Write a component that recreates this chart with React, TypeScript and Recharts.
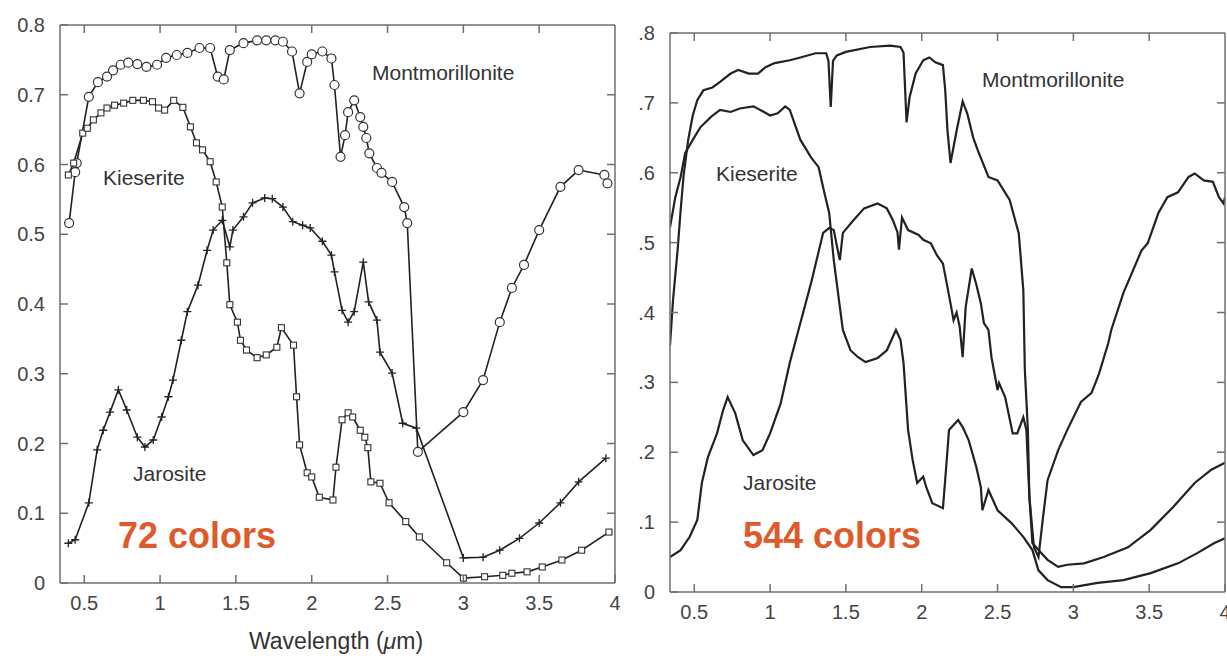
import React from "react";
import { LineChart, Line, XAxis, YAxis } from "recharts";

// wavelength (µm) / reflectance pairs
// left panel: resampled to 72 bands (with markers)
const montmorillonite72: [number, number][] = [
  [0.40, 0.516], [0.44, 0.589], [0.45, 0.602], [0.53, 0.697], [0.59, 0.718], [0.65, 0.726],
  [0.69, 0.735], [0.74, 0.743], [0.79, 0.746], [0.85, 0.744], [0.91, 0.740], [0.98, 0.743],
  [1.04, 0.753], [1.11, 0.757], [1.18, 0.760], [1.26, 0.767], [1.33, 0.767], [1.38, 0.726],
  [1.42, 0.722], [1.46, 0.764], [1.55, 0.774], [1.64, 0.778], [1.70, 0.778], [1.76, 0.778],
  [1.81, 0.776], [1.87, 0.762], [1.92, 0.702], [1.97, 0.747], [2.00, 0.758], [2.07, 0.762],
  [2.13, 0.752], [2.15, 0.714], [2.19, 0.611], [2.22, 0.642], [2.24, 0.675], [2.28, 0.692],
  [2.32, 0.668], [2.34, 0.654], [2.36, 0.638], [2.38, 0.616], [2.43, 0.595], [2.46, 0.588],
  [2.53, 0.575], [2.61, 0.539], [2.63, 0.516], [2.70, 0.188], [3.00, 0.245], [3.13, 0.291],
  [3.24, 0.374], [3.32, 0.423], [3.40, 0.456], [3.50, 0.506], [3.64, 0.568], [3.76, 0.592],
  [3.93, 0.585], [3.95, 0.573],
];

const kieserite72: [number, number][] = [
  [0.395, 0.585], [0.43, 0.602], [0.49, 0.645], [0.52, 0.652], [0.56, 0.664], [0.61, 0.674],
  [0.65, 0.681], [0.70, 0.685], [0.76, 0.688], [0.82, 0.692], [0.89, 0.692], [0.95, 0.690],
  [0.99, 0.681], [1.03, 0.678], [1.09, 0.692], [1.15, 0.682], [1.20, 0.654], [1.24, 0.631],
  [1.28, 0.621], [1.33, 0.604], [1.37, 0.575], [1.41, 0.539], [1.44, 0.459], [1.46, 0.399],
  [1.51, 0.374], [1.53, 0.348], [1.57, 0.334], [1.64, 0.323], [1.70, 0.327], [1.77, 0.338],
  [1.80, 0.366], [1.88, 0.341], [1.90, 0.267], [1.92, 0.198], [1.97, 0.158], [2.00, 0.152],
  [2.05, 0.123], [2.14, 0.119], [2.16, 0.166], [2.20, 0.234], [2.24, 0.244], [2.27, 0.238],
  [2.32, 0.219], [2.35, 0.209], [2.37, 0.194], [2.39, 0.145], [2.45, 0.143], [2.51, 0.115],
  [2.62, 0.088], [2.71, 0.066], [2.89, 0.029], [3.00, 0.007], [3.14, 0.009], [3.26, 0.011],
  [3.32, 0.014], [3.42, 0.016], [3.52, 0.023], [3.65, 0.033], [3.78, 0.047], [3.96, 0.073],
];

const jarosite72: [number, number][] = [
  [0.395, 0.057], [0.44, 0.062], [0.53, 0.115], [0.585, 0.191], [0.625, 0.219], [0.67, 0.245],
  [0.725, 0.277], [0.78, 0.248], [0.85, 0.209], [0.90, 0.195], [0.955, 0.205], [1.01, 0.238],
  [1.055, 0.267], [1.085, 0.291], [1.14, 0.348], [1.18, 0.389], [1.25, 0.427], [1.31, 0.477],
  [1.35, 0.506], [1.41, 0.520], [1.46, 0.482], [1.48, 0.506], [1.55, 0.525], [1.61, 0.545],
  [1.69, 0.552], [1.74, 0.551], [1.81, 0.539], [1.875, 0.518], [1.94, 0.513], [1.99, 0.509],
  [2.07, 0.490], [2.13, 0.470], [2.15, 0.446], [2.20, 0.391], [2.24, 0.374], [2.28, 0.389],
  [2.34, 0.460], [2.375, 0.403], [2.43, 0.377], [2.45, 0.331], [2.53, 0.301], [2.60, 0.229],
  [2.69, 0.222], [3.00, 0.036], [3.13, 0.037], [3.24, 0.047], [3.37, 0.064], [3.50, 0.086],
  [3.64, 0.115], [3.76, 0.145], [3.94, 0.179],
];

// right panel: full 544-band spectra
const montmorillonite544: [number, number][] = [
  [0.34, 0.353], [0.36, 0.418], [0.39, 0.489], [0.41, 0.546], [0.43, 0.597], [0.46, 0.647],
  [0.49, 0.682], [0.52, 0.704], [0.56, 0.718], [0.62, 0.722], [0.67, 0.730], [0.74, 0.742],
  [0.79, 0.747], [0.86, 0.742], [0.92, 0.742], [0.97, 0.751], [1.03, 0.757], [1.13, 0.761],
  [1.20, 0.765], [1.30, 0.771], [1.37, 0.771], [1.385, 0.760], [1.40, 0.694], [1.415, 0.760],
  [1.44, 0.768], [1.50, 0.773], [1.66, 0.780], [1.79, 0.782], [1.86, 0.780], [1.88, 0.772],
  [1.90, 0.672], [1.92, 0.708], [1.96, 0.742], [2.01, 0.761], [2.05, 0.765], [2.09, 0.758],
  [2.14, 0.754], [2.155, 0.718], [2.17, 0.660], [2.19, 0.614], [2.23, 0.660], [2.27, 0.702],
  [2.30, 0.685], [2.34, 0.650], [2.37, 0.632], [2.44, 0.594], [2.50, 0.589], [2.58, 0.561],
  [2.64, 0.513], [2.67, 0.432], [2.68, 0.318], [2.70, 0.232], [2.71, 0.136], [2.74, 0.064],
  [2.77, 0.050], [2.80, 0.107], [2.83, 0.160], [2.90, 0.203], [2.96, 0.232], [3.05, 0.272],
  [3.12, 0.285], [3.17, 0.313], [3.23, 0.356], [3.25, 0.375], [3.33, 0.428], [3.45, 0.489],
  [3.49, 0.499], [3.56, 0.542], [3.62, 0.565], [3.69, 0.572], [3.76, 0.594], [3.80, 0.599],
  [3.86, 0.589], [3.92, 0.587], [3.96, 0.565], [3.99, 0.556], [4.00, 0.565],
];

const kieserite544: [number, number][] = [
  [0.34, 0.522], [0.375, 0.565], [0.41, 0.594], [0.44, 0.628], [0.49, 0.647], [0.54, 0.665],
  [0.61, 0.680], [0.67, 0.690], [0.74, 0.687], [0.80, 0.692], [0.89, 0.695], [0.96, 0.687],
  [1.00, 0.682], [1.05, 0.685], [1.10, 0.695], [1.13, 0.690], [1.20, 0.647], [1.27, 0.622],
  [1.32, 0.608], [1.35, 0.579], [1.39, 0.542], [1.42, 0.475], [1.46, 0.408], [1.48, 0.375],
  [1.53, 0.346], [1.58, 0.336], [1.63, 0.329], [1.71, 0.335], [1.77, 0.346], [1.83, 0.375],
  [1.86, 0.361], [1.88, 0.328], [1.91, 0.232], [1.94, 0.189], [1.97, 0.156], [2.01, 0.165],
  [2.03, 0.150], [2.07, 0.127], [2.14, 0.120], [2.16, 0.175], [2.18, 0.232], [2.24, 0.246],
  [2.27, 0.236], [2.31, 0.217], [2.36, 0.179], [2.39, 0.150], [2.40, 0.117], [2.44, 0.146],
  [2.50, 0.117], [2.59, 0.099], [2.67, 0.079], [2.73, 0.060], [2.77, 0.031], [2.83, 0.017],
  [2.92, 0.007], [3.00, 0.007], [3.16, 0.013], [3.33, 0.017], [3.51, 0.027], [3.69, 0.041],
  [3.82, 0.056], [3.93, 0.070], [4.00, 0.077],
];

const jarosite544: [number, number][] = [
  [0.34, 0.050], [0.41, 0.060], [0.47, 0.079], [0.52, 0.103], [0.55, 0.156], [0.59, 0.193],
  [0.65, 0.227], [0.69, 0.260], [0.72, 0.279], [0.77, 0.256], [0.82, 0.217], [0.89, 0.196],
  [0.95, 0.203], [1.00, 0.227], [1.07, 0.270], [1.13, 0.328], [1.19, 0.377], [1.27, 0.442],
  [1.35, 0.514], [1.39, 0.521], [1.42, 0.518], [1.45, 0.485], [1.46, 0.475], [1.48, 0.514],
  [1.55, 0.532], [1.62, 0.549], [1.71, 0.556], [1.77, 0.549], [1.81, 0.532], [1.84, 0.515],
  [1.85, 0.490], [1.87, 0.536], [1.91, 0.518], [1.98, 0.511], [2.01, 0.504], [2.06, 0.499],
  [2.10, 0.482], [2.14, 0.470], [2.19, 0.413], [2.21, 0.389], [2.23, 0.400], [2.25, 0.380],
  [2.27, 0.336], [2.29, 0.408], [2.33, 0.463], [2.36, 0.440], [2.39, 0.413], [2.41, 0.385],
  [2.44, 0.375], [2.46, 0.336], [2.50, 0.289], [2.51, 0.299], [2.55, 0.279], [2.60, 0.227],
  [2.63, 0.227], [2.67, 0.250], [2.69, 0.232], [2.71, 0.136], [2.73, 0.070], [2.77, 0.060],
  [2.83, 0.046], [2.90, 0.036], [2.96, 0.039], [3.07, 0.041], [3.20, 0.050], [3.36, 0.064],
  [3.51, 0.089], [3.66, 0.122], [3.80, 0.156], [3.91, 0.175], [4.00, 0.185],
];

const xTicks = [0.5, 1, 1.5, 2, 2.5, 3, 3.5, 4];
const yTicks = [0, 0.1, 0.2, 0.3, 0.4, 0.5, 0.6, 0.7, 0.8];
const xDomain = [0.34, 4];
const yDomain = [0, 0.8];

const FONT = "'Liberation Sans', Arial, Helvetica, sans-serif";
const FRAME = "#6f6f6f";
const INK = "#222";
const TEXT = "#444";
const ORANGE = "#de5a2a";
const TICK = 8;

const toPts = (arr: [number, number][]) => arr.map(([x, y]) => ({ x, y }));

const fmtX = (v: number) => String(v);
const fmtYLeft = (v: number) => (v === 0 ? "0" : v.toFixed(1));
const fmtYRight = (v: number) => (v === 0 ? "0" : v.toFixed(1).replace(/^0/, ""));

const bottomTick = (p: any) => (
  <g>
    <line x1={p.x} y1={p.y} x2={p.x} y2={p.y - TICK} stroke={FRAME} strokeWidth={1.5} />
    <text x={p.x} y={p.y + 27} textAnchor="middle" fontSize={20} fill={TEXT} fontFamily={FONT}>
      {fmtX(p.payload.value)}
    </text>
  </g>
);
const topTick = (p: any) => (
  <line x1={p.x} y1={p.y} x2={p.x} y2={p.y + TICK} stroke={FRAME} strokeWidth={1.5} />
);
const leftTick = (fmt: (v: number) => string) => (p: any) => (
  <g>
    <line x1={p.x} y1={p.y} x2={p.x + TICK} y2={p.y} stroke={FRAME} strokeWidth={1.5} />
    <text x={p.x - 15} y={p.y + 7} textAnchor="end" fontSize={20} fill={TEXT} fontFamily={FONT}>
      {fmt(p.payload.value)}
    </text>
  </g>
);
const rightTick = (p: any) => (
  <line x1={p.x} y1={p.y} x2={p.x - TICK} y2={p.y} stroke={FRAME} strokeWidth={1.5} />
);

const circleDot = (p: any) => (
  <circle key={`c${p.index}`} cx={p.cx} cy={p.cy} r={4.5} fill="#fff" stroke="#333" strokeWidth={1.2} />
);
const squareDot = (p: any) => (
  <rect key={`s${p.index}`} x={p.cx - 3} y={p.cy - 3} width={6} height={6} fill="#fff" stroke="#333" strokeWidth={1.1} />
);
const plusDot = (p: any) => (
  <path key={`p${p.index}`} d={`M${p.cx - 4},${p.cy}H${p.cx + 4}M${p.cx},${p.cy - 4}V${p.cy + 4}`} stroke="#222" strokeWidth={1.3} />
);

type PanelProps = {
  left: number;
  top: number;
  height: number;
  fmtY: (v: number) => string;
  series: { data: [number, number][]; dot: any }[];
  width: number;
};

function Panel({ left, top, height, fmtY, series, width }: PanelProps) {
  return (
    <div style={{ position: "absolute", left, top: 0 }}>
      <LineChart width={width} height={height} margin={{ top: top - 1, right: 14, bottom: 0, left: 0 }}>
        <XAxis
          xAxisId="b"
          type="number"
          dataKey="x"
          domain={xDomain}
          allowDataOverflow
          ticks={xTicks}
          interval={0}
          height={37}
          tickSize={0}
          tickMargin={0}
          tickLine={false}
          axisLine={{ stroke: FRAME, strokeWidth: 1.5 }}
          tick={bottomTick}
        />
        <XAxis
          xAxisId="t"
          orientation="top"
          type="number"
          dataKey="x"
          domain={xDomain}
          allowDataOverflow
          ticks={xTicks.slice(0, -1)}
          interval={0}
          height={1}
          tickSize={0}
          tickMargin={0}
          tickLine={false}
          axisLine={{ stroke: FRAME, strokeWidth: 1.5 }}
          tick={topTick}
        />
        <YAxis
          yAxisId="l"
          type="number"
          domain={yDomain}
          allowDataOverflow
          ticks={yTicks}
          interval={0}
          width={60}
          tickSize={0}
          tickMargin={0}
          tickLine={false}
          axisLine={{ stroke: FRAME, strokeWidth: 1.5 }}
          tick={leftTick(fmtY)}
        />
        <YAxis
          yAxisId="r"
          orientation="right"
          type="number"
          domain={yDomain}
          allowDataOverflow
          ticks={yTicks.slice(1, -1)}
          interval={0}
          width={1}
          tickSize={0}
          tickMargin={0}
          tickLine={false}
          axisLine={{ stroke: FRAME, strokeWidth: 1.5 }}
          tick={rightTick}
        />
        {/* invisible copy so the mirrored top/right axes get drawn */}
        <Line
          xAxisId="t"
          yAxisId="r"
          data={toPts(series[0].data)}
          dataKey="y"
          stroke="none"
          dot={false}
          activeDot={false}
          isAnimationActive={false}
        />
        {series.map((s, i) => (
          <Line
            key={i}
            xAxisId="b"
            yAxisId="l"
            data={toPts(s.data)}
            dataKey="y"
            type="linear"
            stroke={INK}
            strokeWidth={s.dot ? 1.6 : 2.2}
            dot={s.dot || false}
            activeDot={false}
            isAnimationActive={false}
          />
        ))}
      </LineChart>
    </div>
  );
}

const labelStyle = { fontFamily: FONT, fill: "#333" };

export default function App() {
  return (
    <div
      style={{
        position: "absolute",
        left: 0,
        top: 0,
        width: 1227,
        height: 664,
        overflow: "hidden",
        background: "#fff",
      }}
    >
      <Panel
        left={0}
        top={25}
        height={620}
        width={630}
        fmtY={fmtYLeft}
        series={[
          { data: montmorillonite72, dot: circleDot },
          { data: kieserite72, dot: squareDot },
          { data: jarosite72, dot: plusDot },
        ]}
      />
      <Panel
        left={610}
        top={33}
        height={629}
        width={630}
        fmtY={fmtYRight}
        series={[
          { data: montmorillonite544, dot: null },
          { data: kieserite544, dot: null },
          { data: jarosite544, dot: null },
        ]}
      />
      <svg width={1227} height={664} style={{ position: "absolute", left: 0, top: 0, pointerEvents: "none" }}>
        <text x={372} y={80} fontSize={21} {...labelStyle}>Montmorillonite</text>
        <text x={103} y={185} fontSize={21} {...labelStyle}>Kieserite</text>
        <text x={133} y={481} fontSize={21} {...labelStyle}>Jarosite</text>
        <text x={118} y={548} fontSize={36} fontWeight="bold" fontFamily={FONT} fill={ORANGE}>72 colors</text>
        <text x={336} y={649} fontSize={23} textAnchor="middle" fontFamily={FONT} fill="#333">
          Wavelength (<tspan fontStyle="italic">μ</tspan>m)
        </text>
        <text x={982} y={87} fontSize={21} {...labelStyle}>Montmorillonite</text>
        <text x={716} y={181} fontSize={21} {...labelStyle}>Kieserite</text>
        <text x={743} y={490} fontSize={21} {...labelStyle}>Jarosite</text>
        <text x={743} y={548} fontSize={36} fontWeight="bold" fontFamily={FONT} fill={ORANGE}>544 colors</text>
      </svg>
    </div>
  );
}
